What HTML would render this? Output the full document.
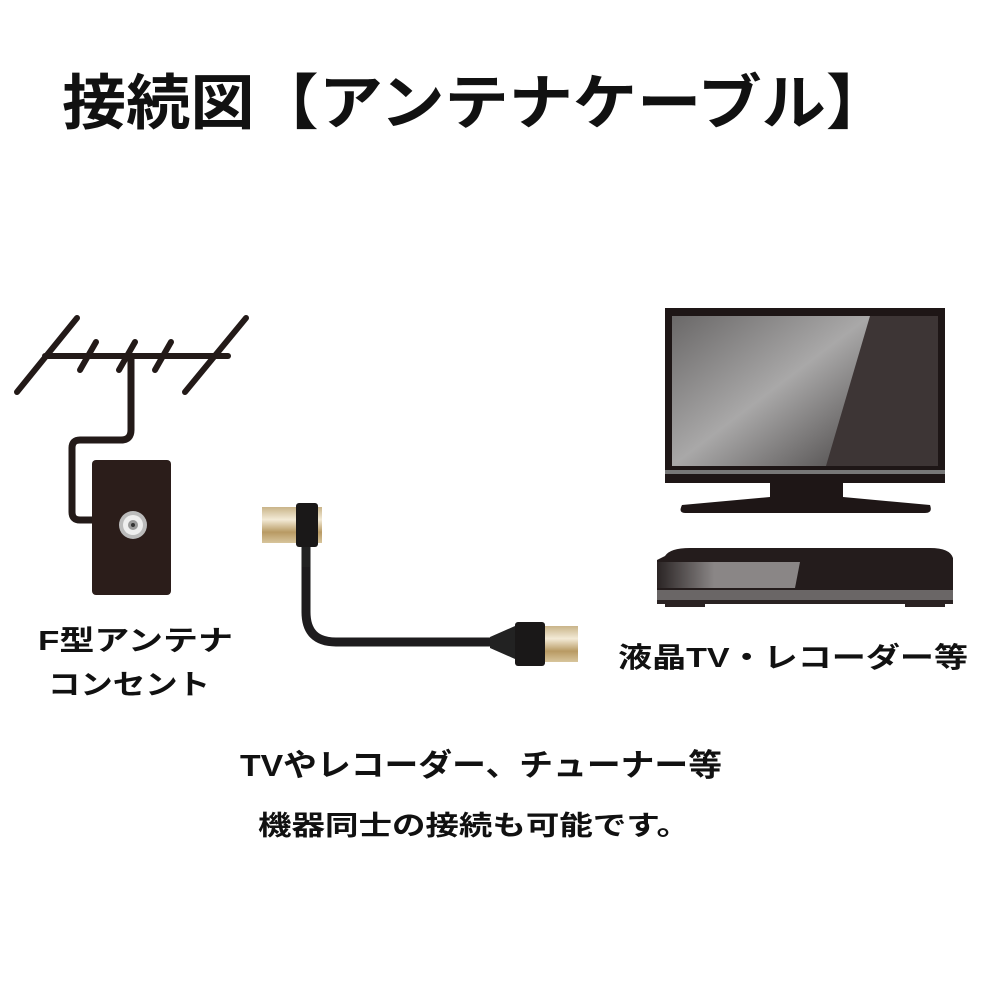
<!DOCTYPE html>
<html><head><meta charset="utf-8"><style>
html,body{margin:0;padding:0;background:#fff;}
svg{display:block}
text{font-family:"Liberation Sans","Noto Sans CJK JP",sans-serif;font-weight:bold;fill:#111}
</style></head><body>
<svg width="991" height="1000" viewBox="0 0 991 1000" xmlns="http://www.w3.org/2000/svg">
<defs>
<linearGradient id="scr" x1="0" y1="0" x2="1" y2="1">
<stop offset="0" stop-color="#6a6868"/><stop offset="0.5" stop-color="#a9a8a8"/><stop offset="1" stop-color="#4a4747"/>
</linearGradient>
<linearGradient id="gold" x1="0" y1="0" x2="0" y2="1">
<stop offset="0" stop-color="#c9b489"/><stop offset="0.35" stop-color="#f3ead6"/><stop offset="0.7" stop-color="#b89a63"/><stop offset="1" stop-color="#d8c59c"/>
</linearGradient>
<linearGradient id="rec" x1="0" y1="0" x2="1" y2="0">
<stop offset="0" stop-color="#2a2424"/><stop offset="0.4" stop-color="#8a8686"/>
</linearGradient>
</defs>

<text x="62" y="124" font-size="60" textLength="828" lengthAdjust="spacingAndGlyphs">接続図【アンテナケーブル】</text>

<!-- antenna -->
<g stroke="#231a18" stroke-width="6" stroke-linecap="round" fill="none">
<line x1="17" y1="392" x2="77" y2="318"/>
<line x1="185" y1="392" x2="246" y2="318"/>
<line x1="45" y1="356" x2="228" y2="356"/>
<line x1="80" y1="370" x2="96" y2="342"/>
<line x1="119" y1="370" x2="135" y2="342"/>
<line x1="155" y1="370" x2="171" y2="342"/>
<path d="M131 358 V430 Q131 440 121 440 H80 Q72 440 72 448 V512 Q72 520 80 520 H95" stroke-width="7"/>
</g>
<rect x="92" y="460" width="79" height="135" rx="4" fill="#2b1d1a"/>
<circle cx="133" cy="525" r="14" fill="#bbb"/>
<circle cx="133" cy="525" r="10" fill="#eee"/>
<circle cx="133" cy="525" r="5" fill="#999"/>
<circle cx="133" cy="525" r="2" fill="#333"/>

<text x="38" y="650" font-size="28" textLength="195" lengthAdjust="spacingAndGlyphs">F型アンテナ</text>
<text x="48" y="694" font-size="28" textLength="162" lengthAdjust="spacingAndGlyphs">コンセント</text>

<!-- cable -->
<path d="M306 545 V612 Q306 642 336 642 H495" stroke="#1e1c1e" stroke-width="9" fill="none"/>
<rect x="302" y="545" width="8" height="22" fill="#222"/>
<rect x="262" y="507" width="60" height="36" fill="url(#gold)"/>
<rect x="296" y="503" width="22" height="44" rx="3" fill="#1a1818"/>
<path d="M490 637 L515 626 V659 L490 648 Z" fill="#222"/>
<rect x="522" y="626" width="56" height="36" fill="url(#gold)"/>
<rect x="515" y="622" width="30" height="44" rx="3" fill="#1a1818"/>

<!-- TV -->
<rect x="665" y="308" width="280" height="175" fill="#1e1616"/>
<rect x="672" y="316" width="266" height="150" fill="#3d3535"/>
<path d="M672 316 H870 L826 466 H672 Z" fill="url(#scr)"/>
<rect x="665" y="470" width="280" height="4" fill="#777"/>
<rect x="770" y="483" width="73" height="18" fill="#1e1616"/>
<path d="M682 505 L770 497 H843 L930 505 Q933 513 925 513 H685 Q678 513 682 505 Z" fill="#1e1616"/>

<!-- recorder -->
<path d="M665 556 Q670 548 690 548 H930 Q950 548 953 558 V600 H657 V560 Z" fill="#241c1c"/>
<path d="M657 562 H800 L795 588 H657 Z" fill="url(#rec)"/>
<rect x="657" y="590" width="296" height="10" fill="#6a6666"/>
<rect x="657" y="600" width="296" height="4" fill="#2a2222"/>
<rect x="665" y="603" width="40" height="4" fill="#2a2222"/>
<rect x="905" y="603" width="40" height="4" fill="#2a2222"/>

<text x="618" y="667" font-size="28" textLength="350" lengthAdjust="spacingAndGlyphs">液晶TV・レコーダー等</text>

<text x="240" y="776" font-size="31" textLength="482" lengthAdjust="spacingAndGlyphs">TVやレコーダー、チューナー等</text>
<text x="258" y="835" font-size="27" textLength="432" lengthAdjust="spacingAndGlyphs">機器同士の接続も可能です。</text>
</svg>
</body></html>
